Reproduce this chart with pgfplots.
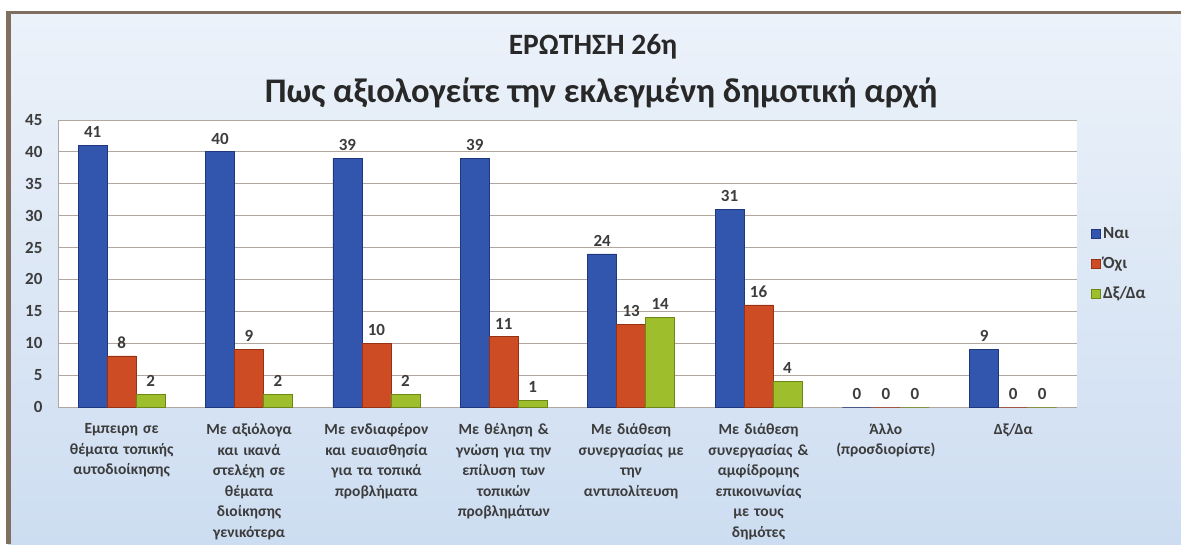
\documentclass[border=0pt]{standalone}
\usepackage{pgfplots}
\pgfplotsset{compat=1.18}
\usepackage{fontspec}
\setmainfont{Carlito}
\definecolor{cblue}{RGB}{50,86,174}
\definecolor{cblued}{RGB}{30,55,125}
\definecolor{cred}{RGB}{206,76,36}
\definecolor{credd}{RGB}{150,50,20}
\definecolor{cgreen}{RGB}{158,190,44}
\definecolor{cgreend}{RGB}{110,135,25}
\definecolor{gridc}{RGB}{178,166,160}
\definecolor{bgtop}{RGB}{236,242,250}
\definecolor{bgbot}{RGB}{205,221,241}
\definecolor{framec}{RGB}{128,110,95}
\definecolor{txtc}{RGB}{40,40,40}
\definecolor{lblc}{RGB}{60,60,60}
\pgfplotstableread{
x nai oxi dxda
0 41 8 2
1 40 9 2
2 39 10 2
3 39 11 1
4 24 13 14
5 31 16 4
6 0 0 0
7 9 0 0
}\datatable
\begin{document}
\begin{tikzpicture}
\useasboundingbox (0pt,0pt) rectangle (1181pt,544pt);
\fill[white] (0pt,0pt) rectangle (1181pt,544pt);
\shade[top color=bgtop, bottom color=bgbot] (8pt,0pt) rectangle (1181pt,531pt);
\draw[framec, line width=3pt] (8pt,531pt) -- (1181pt,531pt);
\draw[framec, line width=5pt] (8pt,0pt) -- (8pt,532.5pt);
\node[font=\fontsize{29.5}{34}\selectfont\bfseries, text=txtc] at (593pt,497pt) {ΕΡΩΤΗΣΗ 26η};
\node[font=\fontsize{34.5}{38}\selectfont\bfseries, text=txtc] at (601pt,451pt) {Πως αξιολογείτε την εκλεγμένη δημοτική αρχή};
\begin{axis}[
  at={(58pt,137pt)}, anchor=south west, scale only axis,
  width=1019pt, height=287pt,
  ybar=0pt, bar width=29pt,
  xmin=-0.5, xmax=7.5, ymin=0, ymax=45,
  ytick={0,5,...,45},
  xtick={0,...,7},
  xticklabels={
    {Εμπειρη σε\\θέματα τοπικής\\αυτοδιοίκησης},
    {Με αξιόλογα\\και ικανά\\στελέχη σε\\θέματα\\διοίκησης\\γενικότερα},
    {Με ενδιαφέρον\\και ευαισθησία\\για τα τοπικά\\προβλήματα},
    {Με θέληση \&\\γνώση για την\\επίλυση των\\τοπικών\\προβλημάτων},
    {Με διάθεση\\συνεργασίας με\\την\\αντιπολίτευση},
    {Με διάθεση\\συνεργασίας \&\\αμφίδρομης\\επικοινωνίας\\με τους\\δημότες},
    {Άλλο\\(προσδιορίστε)},
    {Δξ/Δα}},
  xticklabel style={font=\fontsize{15.5}{20.5}\selectfont\bfseries, text=lblc, text width=134pt, align=center, anchor=north, yshift=-8pt},
  yticklabel style={font=\fontsize{17}{20}\selectfont\bfseries, text=lblc, xshift=-12pt},
  /pgf/number format/assume math mode=true,
  major tick length=5pt,
  xtick style={draw=none},
  ytick style={gridc, line width=1pt},
  ymajorgrids, grid style={gridc, line width=1pt},
  axis x line*=bottom, axis y line*=left,
  axis line style={gridc, line width=1pt, -},
  axis background/.style={fill=white},
  nodes near coords,
  every node near coord/.append style={font=\fontsize{17}{20}\selectfont\bfseries, text=lblc, yshift=4pt},
  legend style={at={(1.011,0.64)}, anchor=north west, draw=none, fill=none,
    font=\fontsize{17}{20}\selectfont\bfseries, text=lblc, row sep=13pt,
    /tikz/every even column/.append style={column sep=3pt}},
  legend cell align=left,
  legend image code/.code={\draw[#1, line width=0.8pt] (0pt,-4.5pt) rectangle (9pt,4.5pt);},
]
\addplot[fill=cblue, draw=cblued, line width=0.8pt] table[x=x, y=nai] {\datatable};
\addplot[fill=cred, draw=credd, line width=0.8pt] table[x=x, y=oxi] {\datatable};
\addplot[fill=cgreen, draw=cgreend, line width=0.8pt] table[x=x, y=dxda] {\datatable};
\legend{Ναι, Όχι, Δξ/Δα}
\end{axis}
\end{tikzpicture}
\end{document}
